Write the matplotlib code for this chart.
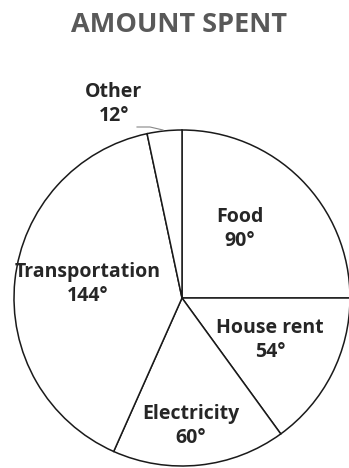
import matplotlib.pyplot as plt

# spending breakdown, in degrees of the circle
categories = ['Food', 'House rent', 'Electricity', 'Transportation', 'Other']
degrees = [90, 54, 60, 144, 12]

#-----------------FIGURE-----------------
plt.rcParams['font.family'] = ['Open Sans', 'DejaVu Sans']
fig = plt.figure(figsize=(3.49, 4.68), dpi=100)
ax = fig.add_axes([0, 0, 1, 1])

cx, cy, r = 182, 170, 168
ax.pie(degrees, center=(cx, cy), radius=r, startangle=90, counterclock=False,
       colors=['white'] * len(degrees),
       wedgeprops={'edgecolor': '#1a1a1a', 'linewidth': 1.1})
ax.set_xlim(0, 349)
ax.set_ylim(0, 468)
ax.set_aspect('equal')
ax.axis('off')

# label spots inside each slice
label_pos = {
    'Food': (240, 239),
    'House rent': (270, 128),
    'Electricity': (191, 42),
    'Transportation': (88, 184),
    'Other': (114, 364),
}
for cat, deg in zip(categories, degrees):
    x, y = label_pos[cat]
    ax.text(x, y, f'{cat}\n{deg}°', ha='center', va='center', fontsize=14,
            fontweight='bold', color='#262626', linespacing=1.3)

# leader line for the thin slice
ax.plot([137, 150, 163], [341, 341, 338], color='#888888', lw=0.8)

fig.text(0.513, 0.947, 'AMOUNT SPENT', ha='center', va='center', fontsize=19.5,
         fontweight='bold', color='#595959')

fig.savefig('out.png', dpi=100)
